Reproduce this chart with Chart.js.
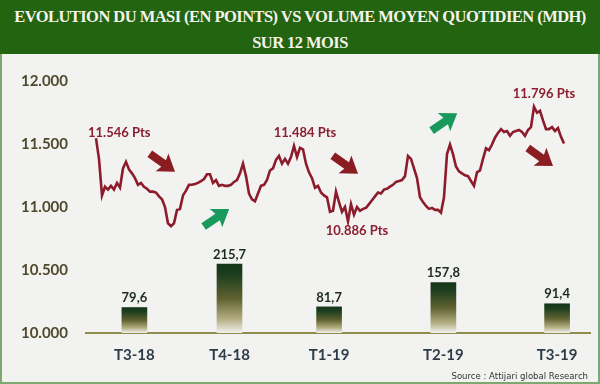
<!DOCTYPE html>
<html>
<head>
<meta charset="utf-8">
<script src="https://cdn.jsdelivr.net/npm/chart.js@4"></script>
<style>
    html, body { margin: 0; padding: 0; }
    body { width: 600px; height: 384px; overflow: hidden; background: #f2f2f0; }
    #wrap { position: relative; width: 600px; height: 384px; }
    #head {
        position: absolute; left: 0; top: 0; width: 600px; height: 54px;
        box-sizing: border-box; padding-top: 4px;
        background: #22640f; color: #f5f3ea;
        font-family: 'Liberation Serif', serif; font-weight: bold; font-size: 16.5px; letter-spacing: -0.55px;
        line-height: 26px; text-align: center;
    }
    #frame {
        position: absolute; left: 0; top: 54px; width: 600px; height: 330px;
        box-sizing: border-box; border: 2px solid #7ea872; border-top: none;
        pointer-events: none;
    }
    #chartBox { position: absolute; left: 0; top: 54px; width: 600px; height: 330px; }
    #source {
        position: absolute; right: 12px; bottom: 3px;
        font: 9.5px 'Liberation Sans Narrow', 'DejaVu Sans Condensed', sans-serif; color: #333;
    }
</style>
</head>
<body>
<div id="wrap">
    <div id="head">EVOLUTION DU MASI (EN POINTS) VS VOLUME MOYEN QUOTIDIEN (MDH)<br>SUR 12 MOIS</div>
    <div id="chartBox"><canvas id="chart"></canvas></div>
    <div id="frame"></div>
    <div id="source">Source : Attijari global Research</div>
</div>
<script>
// trimestres (axe x) et leur position sur l'axe des séances
const quarters = ['T3-18', 'T4-18', 'T1-19', 'T2-19', 'T3-19'];
const quarterPos = [12.8, 44.5, 77.7, 115.8, 153.7];
// volume moyen quotidien (MDH)
const volumes = [79.6, 215.7, 81.7, 157.8, 91.4];
// MASI (points)
const masi = [
    11546, 11382, 11092, 11161, 11138, 11168, 11138, 11191, 11153, 11306,
    11359, 11298, 11267, 11229, 11176, 11191, 11161, 11145, 11122, 11122,
    11115, 11084, 11061, 11000, 10871, 10848, 10871, 10977, 10985, 11092,
    11130, 11176, 11176, 11183, 11191, 11206, 11222, 11260, 11260, 11191,
    11214, 11168, 11176, 11168, 11168, 11176, 11199, 11214, 11267, 11344,
    11245, 11107, 11061, 11046, 11107, 11168, 11176, 11214, 11290, 11306,
    11374, 11405, 11344, 11382, 11344, 11397, 11484, 11397, 11470, 11458,
    11344, 11275, 11229, 11153, 11168, 11115, 11092, 11077, 10962, 10970,
    11122, 11039, 10962, 11000, 10886, 11023, 10939, 11000, 10970, 10985,
    10993, 11023, 11054, 11084, 11115, 11107, 11138, 11145, 11161, 11176,
    11199, 11206, 11214, 11245, 11405, 11382, 11306, 11229, 11077, 11039,
    11008, 10985, 10993, 10977, 10977, 10955, 11077, 11420, 11496, 11420,
    11321, 11283, 11267, 11252, 11245, 11206, 11168, 11275, 11290, 11382,
    11466, 11451, 11496, 11550, 11588, 11618, 11595, 11603, 11565, 11595,
    11603, 11611, 11595, 11565, 11611, 11634, 11796, 11748, 11763, 11687,
    11618, 11618, 11634, 11603, 11626, 11557, 11504
];
// points annotés et flèches de tendance
const callouts = [0, 66, 84, 146];
const arrowIdx = [22, 83, 148, 40, 116];
const arrowVal = [11354, 11338, 11399, 10912, 11673];
const arrowUp = [false, false, false, true, true];

const calloutStyle = [
    { dx: -8, dy: -5, align: 'left' },
    { dx: 11, dy: -13, align: 'center' },
    { dx: 9, dy: 9.5, align: 'center' },
    { dx: 10, dy: -13, align: 'center' }
];

function fmtPts(v) {
    const s = String(Math.round(v));
    return s.slice(0, -3) + '.' + s.slice(-3);
}

function drawArrow(ctx, cx, cy, up) {
    ctx.save();
    ctx.translate(cx, cy);
    ctx.rotate(up ? -0.6 : 0.62);
    ctx.fillStyle = up ? '#199a5c' : '#8b1d22';
    ctx.beginPath();
    ctx.moveTo(-15, -4);
    ctx.lineTo(2, -4);
    ctx.lineTo(0, -11);
    ctx.lineTo(16, 0);
    ctx.lineTo(0, 11);
    ctx.lineTo(2, 4);
    ctx.lineTo(-15, 4);
    ctx.closePath();
    ctx.fill();
    ctx.restore();
}

const overlay = {
    id: 'overlay',
    afterDatasetsDraw(chart) {
        const ctx = chart.ctx;
        const x = chart.scales.x;
        const y = chart.scales.y;
        ctx.save();

        // valeurs des barres
        ctx.font = 'bold 13px Lato';
        ctx.fillStyle = '#1c2a22';
        ctx.textAlign = 'center';
        ctx.textBaseline = 'bottom';
        chart.getDatasetMeta(0).data.forEach((bar, i) => {
            ctx.fillText(volumes[i].toFixed(1).replace('.', ','), bar.x, bar.y - 3);
        });

        // annotations du MASI
        ctx.fillStyle = '#8b1f30';
        ctx.textBaseline = 'middle';
        callouts.forEach((idx, k) => {
            const st = calloutStyle[k];
            ctx.textAlign = st.align;
            ctx.fillText(fmtPts(masi[idx]) + ' Pts',
                x.getPixelForValue(idx) + st.dx, y.getPixelForValue(masi[idx]) + st.dy);
        });

        // flèches
        arrowIdx.forEach((idx, k) => {
            drawArrow(ctx, x.getPixelForValue(idx), y.getPixelForValue(arrowVal[k]), arrowUp[k]);
        });
        ctx.restore();
    }
};

function barFill(context) {
    if (context.type !== 'data') return '#1f4020';
    const chart = context.chart;
    const ys = chart.scales.y2;
    if (!ys || !context.parsed) return '#1f4020';
    const top = ys.getPixelForValue(context.parsed.y);
    const base = ys.getPixelForValue(0);
    if (!isFinite(top) || !isFinite(base) || top === base) return '#1f4020';
    const g = chart.ctx.createLinearGradient(0, top, 0, base);
    g.addColorStop(0, '#143619');
    g.addColorStop(0.15, '#1c3d1e');
    g.addColorStop(0.5, '#5f6130');
    g.addColorStop(0.8, '#b3ae82');
    g.addColorStop(1, 'rgba(242,242,240,1)');
    return g;
}

const ctx = document.getElementById('chart').getContext('2d');
new Chart(ctx, {
    type: 'bar',
    data: {
        datasets: [{
            type: 'bar',
            data: quarterPos.map((p, i) => ({ x: p, y: volumes[i] })),
            backgroundColor: barFill,
            barThickness: 25,
            yAxisID: 'y2',
            order: 2
        }, {
            type: 'line',
            data: masi.map((v, i) => ({ x: i, y: v })),
            borderColor: '#8c1c2b',
            borderWidth: 2.6,
            pointRadius: 0,
            tension: 0,
            yAxisID: 'y',
            order: 1
        }]
    },
    options: {
        responsive: true,
        maintainAspectRatio: false,
        animation: false,
        layout: { padding: { top: 16, right: 10, left: 0, bottom: 0 } },
        plugins: {
            legend: { display: false },
            tooltip: { enabled: false }
        },
        scales: {
            x: {
                type: 'linear',
                offset: false,
                min: -3.33,
                max: 164.67,
                afterBuildTicks: (scale) => {
                    scale.ticks = quarterPos.map(v => ({ value: v }));
                },
                afterFit: (scale) => { scale.height = 51; },
                ticks: {
                    callback: (v, i) => quarters[i],
                    autoSkip: false,
                    maxRotation: 0,
                    padding: 13,
                    color: '#2e3b48',
                    font: { family: 'Lato', weight: 'bold', size: 15 }
                },
                grid: { display: false, drawTicks: false, offset: false },
                border: { display: true, color: '#8f8c4c', width: 2 }
            },
            y: {
                type: 'linear',
                min: 10000,
                max: 12000,
                afterFit: (scale) => { scale.width = 86; },
                ticks: {
                    stepSize: 500,
                    callback: (v) => fmtPts(v),
                    padding: 18,
                    color: '#4f4a2c',
                    font: { family: 'Lato', weight: 'bold', size: 15 }
                },
                grid: { display: false, drawTicks: false },
                border: { display: false }
            },
            y2: {
                display: false,
                min: 0,
                max: 788
            }
        }
    },
    plugins: [overlay]
});
</script>
</body>
</html>
